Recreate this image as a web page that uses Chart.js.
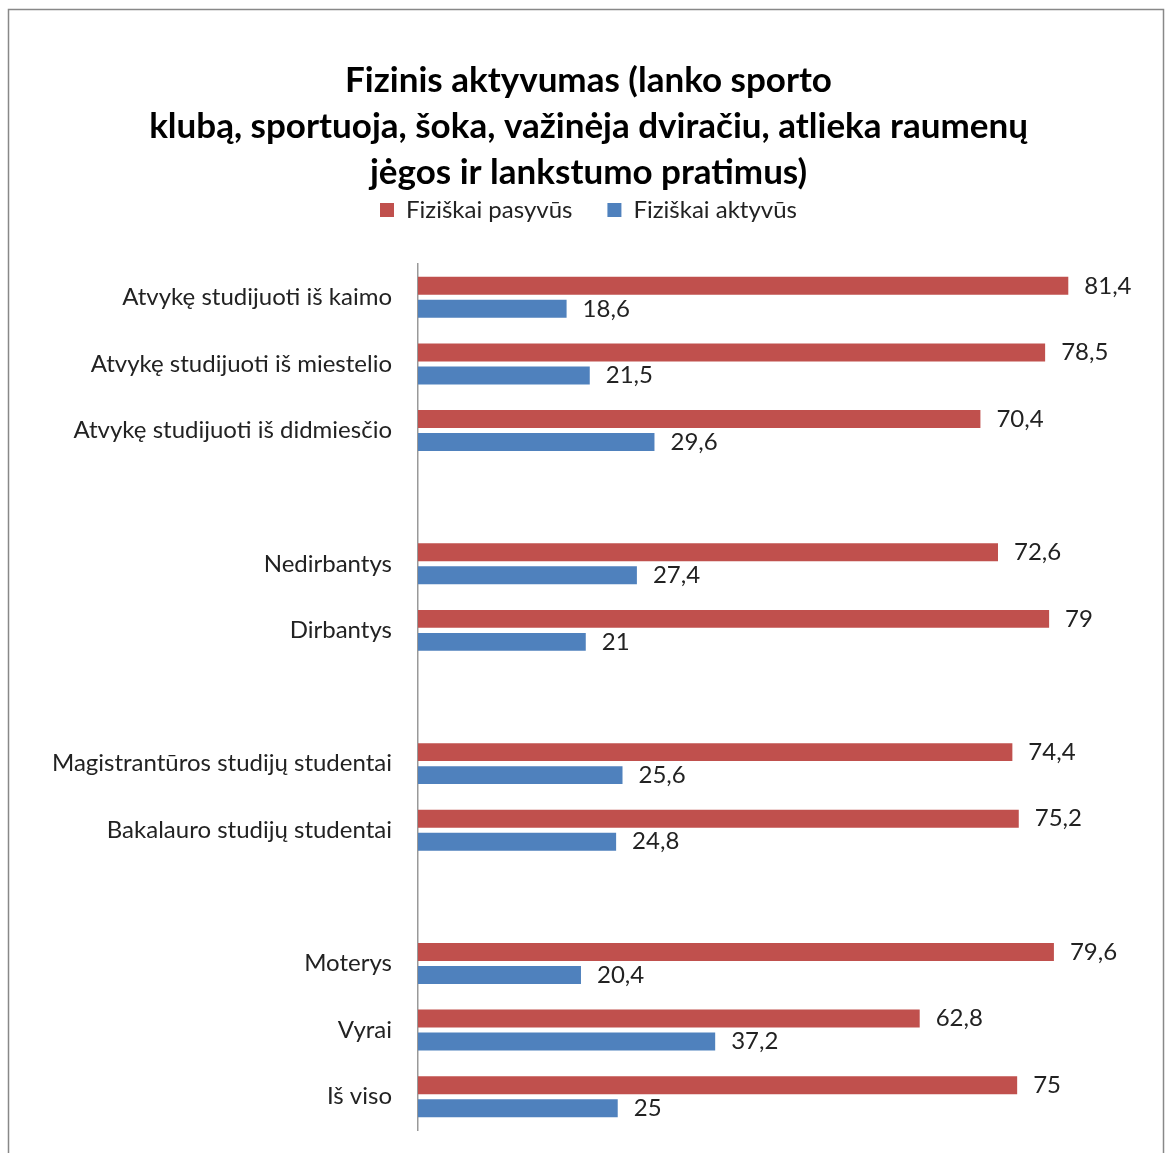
<!DOCTYPE html>
<html>
<head>
<meta charset="utf-8">
<script src="https://cdn.jsdelivr.net/npm/chart.js@4/dist/chart.umd.min.js"></script>
<style>
  body { margin: 0; background: #fff; }
  canvas { display: block; }
</style>
</head>
<body>
<canvas id="chart" width="1172" height="1153"></canvas>
<script>
const categories = [
    'Atvykę studijuoti iš kaimo',
    'Atvykę studijuoti iš miestelio',
    'Atvykę studijuoti iš didmiesčio',
    '',
    'Nedirbantys',
    'Dirbantys',
    '',
    'Magistrantūros studijų studentai',
    'Bakalauro studijų studentai',
    '',
    'Moterys',
    'Vyrai',
    'Iš viso'
];
const pasyvus = [81.4, 78.5, 70.4, null, 72.6, 79, null, 74.4, 75.2, null, 79.6, 62.8, 75];
const aktyvus = [18.6, 21.5, 29.6, null, 27.4, 21, null, 25.6, 24.8, null, 20.4, 37.2, 25];

const FONT = 'Lato, Calibri, "Open Sans", sans-serif';
const PAD_LEFT = 40;

// frame round the chart
const frame = {
    id: 'frame',
    beforeDraw(chart) {
        const ctx = chart.ctx;
        ctx.save();
        ctx.fillStyle = '#fff';
        ctx.fillRect(0, 0, chart.width, chart.height);
        ctx.strokeStyle = '#888';
        ctx.lineWidth = 1.5;
        ctx.strokeRect(8.5, 9.5, 1155, 1200);
        ctx.restore();
    }
};

// value labels at bar ends
const valueLabels = {
    id: 'valueLabels',
    afterDatasetsDraw(chart) {
        const ctx = chart.ctx;
        ctx.save();
        ctx.font = '24px ' + FONT;
        ctx.fillStyle = '#222';
        ctx.textAlign = 'left';
        ctx.textBaseline = 'middle';
        chart.data.datasets.forEach((ds, i) => {
            chart.getDatasetMeta(i).data.forEach((bar, j) => {
                const v = ds.data[j];
                if (v === null) return;
                ctx.fillText(String(v).replace('.', ','), bar.x + 16, bar.y);
            });
        });
        ctx.restore();
    }
};

document.addEventListener('DOMContentLoaded', function () {
    const ctx = document.getElementById('chart').getContext('2d');
    new Chart(ctx, {
        type: 'bar',
        data: {
            labels: categories,
            datasets: [{
                label: 'Fiziškai pasyvūs',
                data: pasyvus,
                backgroundColor: '#C0504D',
                categoryPercentage: 0.69,
                barPercentage: 0.78
            }, {
                label: 'Fiziškai aktyvūs',
                data: aktyvus,
                backgroundColor: '#4F81BD',
                categoryPercentage: 0.69,
                barPercentage: 0.78
            }]
        },
        options: {
            indexAxis: 'y',
            responsive: false,
            animation: false,
            layout: {
                padding: { left: PAD_LEFT, right: 35, top: 0, bottom: 23 }
            },
            scales: {
                x: {
                    display: false,
                    min: 0,
                    max: 90
                },
                y: {
                    grid: { display: false, drawTicks: true, tickLength: 26 },
                    border: { display: true, color: '#999', width: 1.5 },
                    ticks: {
                        autoSkip: false,
                        padding: 0,
                        color: '#222',
                        font: { family: FONT, size: 24 }
                    },
                    afterFit(scale) { scale.width = 418 - PAD_LEFT; }
                }
            },
            plugins: {
                title: {
                    display: true,
                    text: [
                        'Fizinis aktyvumas (lanko sporto',
                        'klubą, sportuoja, šoka, važinėja dviračiu, atlieka raumenų',
                        'jėgos ir lankstumo pratimus)'
                    ],
                    color: '#000',
                    font: { family: FONT, size: 35, weight: 'bold', lineHeight: 46 / 35 },
                    padding: { top: 58, bottom: -33 }
                },
                subtitle: {
                    display: true,
                    text: '',
                    weight: 500,
                    font: { size: 1, lineHeight: 1 },
                    padding: { top: 0, bottom: 31 }
                },
                legend: {
                    display: true,
                    position: 'top',
                    labels: {
                        boxWidth: 14,
                        boxHeight: 14,
                        padding: 35,
                        color: '#222',
                        font: { family: FONT, size: 24 }
                    }
                },
                tooltip: { enabled: false }
            }
        },
        plugins: [frame, valueLabels]
    });
});
</script>
</body>
</html>
